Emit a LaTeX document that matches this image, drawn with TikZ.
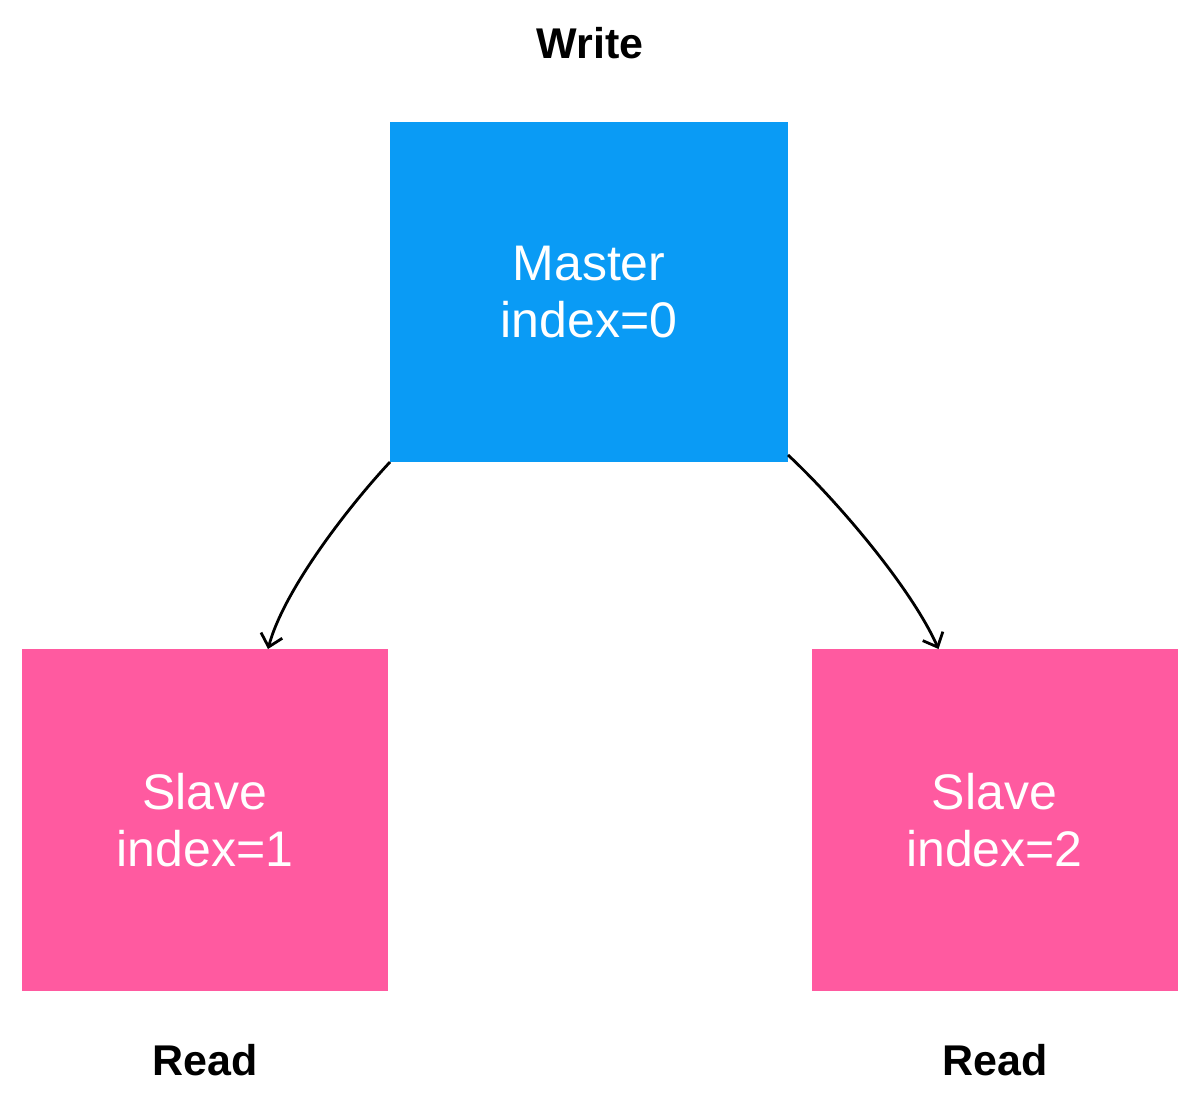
\documentclass[tikz,border=0pt]{standalone}
\usepackage{fontspec}
\setmainfont{Liberation Sans}
\usetikzlibrary{arrows.meta,positioning}
\definecolor{masterblue}{RGB}{10,155,245}
\definecolor{slavepink}{RGB}{255,90,160}
\def\boxtext#1#2{#1\\#2}

\begin{document}
\begin{tikzpicture}[x=0.5pt,y=-0.5pt,
					every node/.style={inner sep=0pt,outer sep=0pt},
					masterbox/.style={fill=masterblue,minimum width=199pt,minimum height=170pt,
						text=white,align=center,font=\fontsize{25}{28.5}\selectfont},
					slavebox/.style={fill=slavepink,minimum width=183pt,minimum height=171pt,
						text=white,align=center,font=\fontsize{25}{28.5}\selectfont},
					rolelabel/.style={font=\fontsize{21.5}{24}\selectfont\bfseries},
					link/.style={draw,line width=1.4pt,-{Straight Barb[length=6pt,width=11pt]}}]
				\useasboundingbox (0,0) rectangle (1203,1102);
				% boxes
				\node[masterbox] (master) at (589,292) {\boxtext{Master}{index=0}};
				\node[slavebox] (slaveone) at (205,820) {\boxtext{Slave}{index=1}};
				\node[slavebox] (slavetwo) at (994.5,820) {\boxtext{Slave}{index=2}};
				% labels
				\node[rolelabel] (write) at (590,43) {Write};
				\node[rolelabel] (readone) at (205,1060) {Read};
				\node[rolelabel] (readtwo) at (995,1060) {Read};
				% arrows
				\draw[link] (master.south west) to[out=-133,in=75,looseness=0.7] ([xshift=31.5pt]slaveone.north);
				\draw[link] ([yshift=3.5pt]master.south east) to[out=-43,in=114,looseness=0.7] ([xshift=-28pt]slavetwo.north);
\end{tikzpicture}
\end{document}
